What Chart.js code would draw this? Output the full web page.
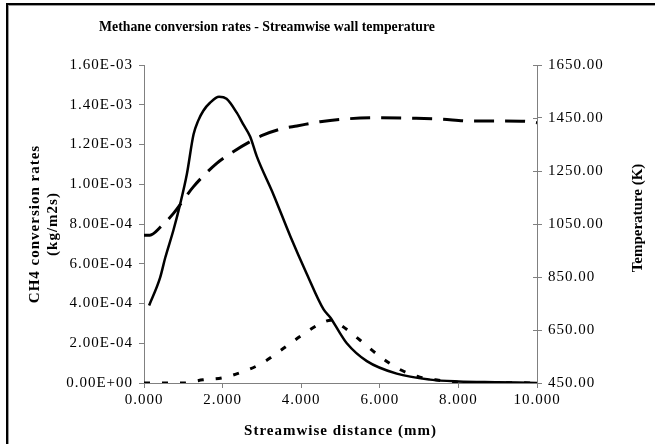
<!DOCTYPE html>
<html>
<head>
<meta charset="utf-8">
<script src="https://cdn.jsdelivr.net/npm/chart.js@4/dist/chart.umd.min.js"></script>
<style>
  html, body { margin: 0; padding: 0; background: #ffffff; }
  canvas { display: block; }
</style>
</head>
<body>
<canvas id="c" width="655" height="444"></canvas>
<script>
// ---- Data ----
const chartTitle = 'Methane conversion rates - Streamwise wall temperature';
const xTitle = 'Streamwise distance (mm)';
const leftTitle = ['CH4 conversion rates', '(kg/m2s)'];
const rightTitle = 'Temperature (K)';

// CH4 conversion rate (solid line, left axis)
const rateDistance = [0.13, 0.41, 0.54, 0.75, 0.92, 1.09, 1.26, 1.38, 1.51, 1.68, 1.91, 2.10, 2.36, 2.53, 2.70, 2.87, 3.29, 3.72, 4.14, 4.57, 4.74, 4.99, 5.16, 5.67, 6.43, 7.28, 8.00, 9.00, 10.00];
const rateValues   = [0.39e-3, 0.53e-3, 0.63e-3, 0.77e-3, 0.90e-3, 1.05e-3, 1.25e-3, 1.32e-3, 1.37e-3, 1.41e-3, 1.44e-3, 1.43e-3, 1.36e-3, 1.30e-3, 1.24e-3, 1.14e-3, 0.95e-3, 0.74e-3, 0.55e-3, 0.37e-3, 0.33e-3, 0.25e-3, 0.20e-3, 0.11e-3, 0.047e-3, 0.017e-3, 0.008e-3, 0.004e-3, 0.0];

// Wall temperature (long dashes, right axis)
const tempDistance = [0.00, 0.15, 0.43, 0.75, 1.26, 1.85, 2.27, 2.70, 3.04, 3.55, 3.89, 4.48, 4.99, 6.01, 6.85, 7.54, 8.30, 9.14, 9.83, 10.00];
const tempValues   = [1008, 1008, 1040, 1090, 1191, 1279, 1323, 1361, 1386, 1411, 1420, 1436, 1445, 1451, 1449, 1446, 1439, 1439, 1436, 1432];

// Second conversion-rate series (short dashes, left axis)
const rate2Distance = [0.0, 0.5, 1.0, 1.5, 2.0, 2.5, 3.0, 3.5, 4.0, 4.5, 4.75, 5.0, 5.5, 6.0, 6.5, 7.0, 7.5, 8.0, 9.0, 10.0];
const rate2Values   = [0, 0, 0, 0.016e-3, 0.026e-3, 0.056e-3, 0.099e-3, 0.167e-3, 0.238e-3, 0.300e-3, 0.316e-3, 0.292e-3, 0.215e-3, 0.134e-3, 0.069e-3, 0.031e-3, 0.014e-3, 0.004e-3, 0.002e-3, 0];

// Axis ranges / ticks
const xMin = 0, xMax = 10, xStep = 2;
const leftMin = 0, leftMax = 1.6e-3, leftStep = 2e-4;
const rightMin = 450, rightMax = 1650, rightStep = 200;

const FONT = "'Liberation Serif', 'Times New Roman', serif";
const AXIS_GRAY = '#808080';

function toPoints(xs, ys) { return xs.map((x, i) => ({ x: x, y: ys[i] })); }

function sci(v) {
  if (Math.abs(v) < 1e-12) return '0.00E+00';
  const s = v.toExponential(2);
  const parts = s.split('e');
  const n = parseInt(parts[1], 10);
  return parts[0] + 'E' + (n < 0 ? '-' : '+') + String(Math.abs(n)).padStart(2, '0');
}

const framePlugin = {
  id: 'frame',
  beforeDraw(chart) {
    const ctx = chart.ctx;
    ctx.save();
    ctx.fillStyle = '#ffffff';
    ctx.fillRect(0, 0, chart.width, chart.height);
    ctx.fillStyle = '#000000';
    ctx.fillRect(6, 3, 2, chart.height - 3);
    ctx.fillRect(6, 3, chart.width - 6, 2);
    ctx.fillStyle = '#9a9a9a';
    ctx.fillRect(8, 5, 1, chart.height - 5);
    ctx.fillRect(8, 5, chart.width - 8, 1);
    ctx.restore();
    ctx.letterSpacing = '1px';
  },
  afterDraw(chart) {
    const ctx = chart.ctx;
    ctx.letterSpacing = '0px';
    // inner half of the right-axis tick marks (they cross the axis)
    const yR = chart.scales.yR;
    ctx.save();
    ctx.strokeStyle = AXIS_GRAY;
    ctx.lineWidth = 1;
    ctx.beginPath();
    yR.ticks.forEach((t) => {
      const py = Math.round(yR.getPixelForValue(t.value)) + 0.5;
      ctx.moveTo(yR.left - 4, py);
      ctx.lineTo(yR.left, py);
    });
    ctx.stroke();
    ctx.restore();
    // chart title (condensed bold serif)
    ctx.save();
    ctx.translate(267, 27);
    ctx.scale(0.92, 1);
    ctx.font = 'bold 15px ' + FONT;
    ctx.fillStyle = '#000000';
    ctx.textAlign = 'center';
    ctx.textBaseline = 'middle';
    ctx.fillText(chartTitle, 0, 0);
    ctx.restore();
    // right axis title, reading bottom-to-top
    ctx.save();
    ctx.translate(638, 218);
    ctx.rotate(-Math.PI / 2);
    ctx.font = 'bold 15px ' + FONT;
    ctx.fillStyle = '#000000';
    ctx.textAlign = 'center';
    ctx.textBaseline = 'middle';
    ctx.fillText(rightTitle, 0, 0);
    ctx.restore();
  }
};

new Chart(document.getElementById('c'), {
  type: 'line',
  data: {
    datasets: [
      {
        label: 'CH4 conversion rate',
        data: toPoints(rateDistance, rateValues),
        yAxisID: 'yL',
        borderColor: '#000000',
        borderWidth: 2.5,
        pointRadius: 0,
        fill: false,
        cubicInterpolationMode: 'monotone'
      },
      {
        label: 'Wall temperature',
        data: toPoints(tempDistance, tempValues),
        yAxisID: 'yR',
        borderColor: '#000000',
        borderWidth: 3,
        borderDash: [20, 11],
        pointRadius: 0,
        fill: false,
        cubicInterpolationMode: 'monotone'
      },
      {
        label: 'Conversion rate 2',
        data: toPoints(rate2Distance, rate2Values),
        yAxisID: 'yL',
        borderColor: '#000000',
        borderWidth: 3,
        borderDash: [6, 12],
        pointRadius: 0,
        fill: false,
        cubicInterpolationMode: 'monotone'
      }
    ]
  },
  options: {
    responsive: false,
    animation: false,
    devicePixelRatio: 1,
    layout: { padding: { top: 65, left: 0, right: 0, bottom: 0 } },
    plugins: {
      legend: { display: false },
      tooltip: { enabled: false },
      title: { display: false }
    },
    scales: {
      x: {
        type: 'linear',
        position: 'bottom',
        min: xMin, max: xMax,
        afterFit(scale) { scale.height = 61; },
        border: { display: true, color: AXIS_GRAY, width: 1 },
        grid: { drawOnChartArea: false, drawTicks: true, tickLength: 5, color: AXIS_GRAY },
        ticks: {
          stepSize: xStep, maxRotation: 0, color: '#000000', padding: 3,
          font: { family: FONT, size: 15 },
          callback: (v) => Number(v).toFixed(3)
        },
        title: {
          display: true, text: xTitle, color: '#000000',
          font: { family: FONT, size: 15, weight: 'bold', lineHeight: 1.2 },
          padding: { top: 0, bottom: 4 }
        }
      },
      yL: {
        type: 'linear',
        position: 'left',
        min: leftMin, max: leftMax,
        afterFit(scale) { scale.width = 144; },
        border: { display: true, color: AXIS_GRAY, width: 1 },
        grid: { drawOnChartArea: false, drawTicks: true, tickLength: 5, color: AXIS_GRAY },
        ticks: {
          stepSize: leftStep, color: '#000000', padding: 6,
          font: { family: FONT, size: 15 },
          callback: (v) => sci(v)
        },
        title: {
          display: true, text: leftTitle, color: '#000000',
          font: { family: FONT, size: 15, weight: 'bold', lineHeight: 1.2 },
          padding: { top: 26, bottom: 0 }
        }
      },
      yR: {
        type: 'linear',
        position: 'right',
        min: rightMin, max: rightMax,
        afterFit(scale) { scale.width = 118; },
        border: { display: true, color: AXIS_GRAY, width: 1 },
        grid: { drawOnChartArea: false, drawTicks: true, tickLength: 5, color: AXIS_GRAY },
        ticks: {
          stepSize: rightStep, color: '#000000', padding: 6,
          font: { family: FONT, size: 15 },
          callback: (v) => Number(v).toFixed(2)
        },
        title: { display: false }
      }
    }
  },
  plugins: [framePlugin]
});
</script>
</body>
</html>
